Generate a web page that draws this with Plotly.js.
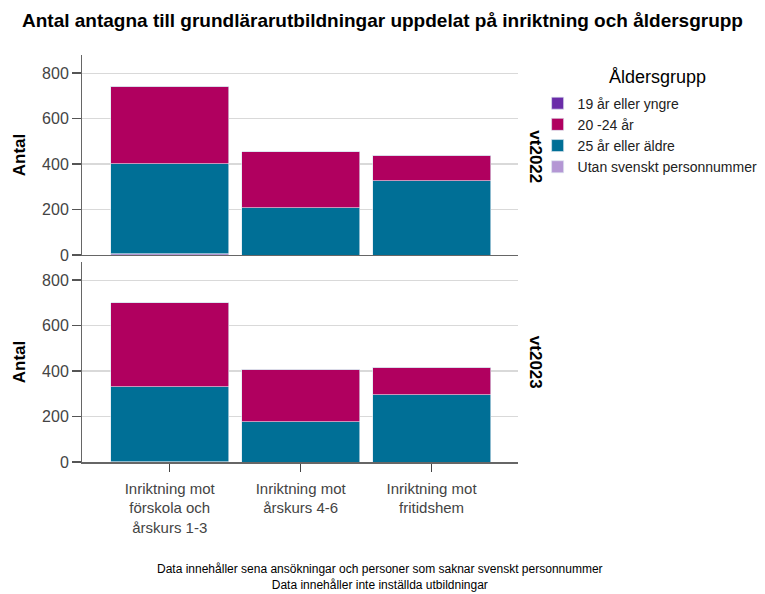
<!DOCTYPE html>
<html>
<head>
<meta charset="utf-8">
<script src="https://cdn.plot.ly/plotly-3.0.1.min.js"></script>
<style>html,body{margin:0;padding:0;background:#fff;}#chart{width:765px;height:594px;}</style>
</head>
<body>
<div id="chart"></div>
<script>
const categories = ["Inriktning mot<br>förskola och<br>årskurs 1-3", "Inriktning mot<br>årskurs 4-6", "Inriktning mot<br>fritidshem"];
const groups = ["19 år eller yngre", "20 -24 år", "25 år eller äldre", "Utan svenskt personnummer"];
const colors = ["#6a2ca8", "#b0005f", "#006f96", "#b497d4"];
// vt2022
const vt2022_19 = [0, 0, 0];
const vt2022_2024 = [341, 247, 112];
const vt2022_25 = [396, 208, 327];
const vt2022_utan = [5, 0, 0];
// vt2023
const vt2023_19 = [0, 0, 0];
const vt2023_2024 = [368, 231, 120];
const vt2023_25 = [331, 178, 297];
const vt2023_utan = [1, 0, 0];

const idx = [0, 1, 2];
const traces = [];
function addPanel(yaxis, utan, v25, v2024, v19, showLegend) {
  // stacking order bottom->top: Utan, 25+, 20-24, 19
  const series = [[3, utan], [2, v25], [1, v2024], [0, v19]];
  series.forEach(([g, vals]) => {
    traces.push({
      type: "bar", x: idx, y: vals, yaxis: yaxis, xaxis: yaxis === "y" ? "x" : "x2",
      name: groups[g], legendgroup: groups[g], showlegend: showLegend, legendrank: g + 1,
      marker: {color: colors[g], line: {color: "rgba(220,230,240,0.8)", width: 0.8}},
      hoverinfo: "y+name"
    });
  });
}
addPanel("y", vt2022_utan, vt2022_25, vt2022_2024, vt2022_19, true);
addPanel("y2", vt2023_utan, vt2023_25, vt2023_2024, vt2023_19, false);

const FF = "Liberation Sans, Arial, sans-serif";
const yCommon = {
  range: [0, 880], tickvals: [0, 200, 400, 600, 800], ticks: "outside", ticklen: 9, tickwidth: 1.5,
  tickcolor: "#555", showline: true, linecolor: "#666", linewidth: 1, showgrid: true,
  gridcolor: "#d9d9d9", gridwidth: 1.2, zeroline: false,
  tickfont: {family: FF, size: 16, color: "#444"}, fixedrange: true,
  title: {text: "Antal", font: {family: FF, size: 17, color: "#000", weight: "bold"}, standoff: 12}
};
const xCommon = {
  range: [-0.67, 2.66], tickvals: idx, ticktext: categories, showline: true, linecolor: "#666",
  linewidth: 1.5, showgrid: false, zeroline: false,
  tickfont: {family: FF, size: 15, color: "#444"}, fixedrange: true
};

const layout = {
  width: 765, height: 594,
  margin: {l: 82, r: 247, t: 55, b: 132, autoexpand: false},
  paper_bgcolor: "#fff", plot_bgcolor: "#fff",
  barmode: "stack", bargap: 0.1,
  font: {family: FF, color: "#000"},
  title: {text: "Antal antagna till grundlärarutbildningar uppdelat på inriktning och åldersgrupp",
    font: {family: FF, size: 19, color: "#000", weight: "bold"},
    x: 0.5, xanchor: "center", y: 0.965, yanchor: "middle"},
  xaxis: Object.assign({}, xCommon, {anchor: "y", showticklabels: false, ticks: ""}),
  xaxis2: Object.assign({}, xCommon, {anchor: "y2", matches: "x", ticks: "outside", ticklen: 8, tickwidth: 1.5, tickcolor: "#444", ticklabelstandoff: 4}),
  yaxis: Object.assign({}, yCommon, {domain: [0.5086, 1], anchor: "x"}),
  yaxis2: Object.assign({}, yCommon, {domain: [0, 0.4914], anchor: "x2"}),
  legend: {x: 1.045, xanchor: "left", y: 0.92, yanchor: "top", traceorder: "normal",
    font: {family: FF, size: 14, color: "#222"},
    itemwidth: 30, tracegroupgap: 0, bgcolor: "rgba(0,0,0,0)"},
  annotations: [
    {text: "Åldersgrupp", xref: "paper", yref: "paper", x: 1.32, y: 0.946, xanchor: "center", yanchor: "middle",
      showarrow: false, font: {family: FF, size: 18, color: "#000"}},
    {text: "<b>vt2022</b>", xref: "paper", yref: "paper", x: 1.04, y: 0.75, textangle: 90, xanchor: "center", yanchor: "middle",
      showarrow: false, font: {family: FF, size: 17, color: "#000"}},
    {text: "<b>vt2023</b>", xref: "paper", yref: "paper", x: 1.04, y: 0.245, textangle: 90, xanchor: "center", yanchor: "middle",
      showarrow: false, font: {family: FF, size: 17, color: "#000"}},
    {text: "Data innehåller sena ansökningar och personer som saknar svenskt personnummer<br>Data innehåller inte inställda utbildningar",
      xref: "paper", yref: "paper", x: 0.683, y: -0.283, xanchor: "center", yanchor: "middle", showarrow: false,
      font: {family: FF, size: 12, color: "#000"}}
  ]
};

Plotly.newPlot("chart", traces, layout, {displayModeBar: false, staticPlot: true});
</script>
</body>
</html>
